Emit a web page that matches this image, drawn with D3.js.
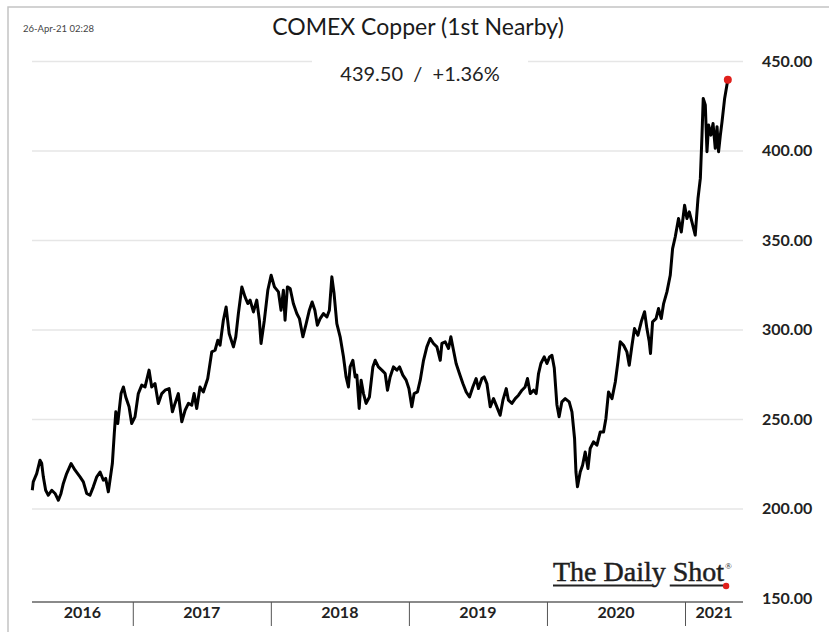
<!DOCTYPE html>
<html>
<head>
<meta charset="utf-8">
<script src="https://cdn.jsdelivr.net/npm/d3@7"></script>
<style>
    body { margin: 0; background: #fff; }
    svg { display: block; }
    text { font-family: Lato, "Open Sans", sans-serif; }
</style>
</head>
<body>
<svg id="chart" width="829" height="632"></svg>
<script>
// COMEX copper, 1st nearby, 5 years to 26-Apr-21 (dates as decimal years)
var dates = [
    2016.272, 2016.279, 2016.304, 2016.328, 2016.340, 2016.352, 2016.369, 2016.388, 2016.413, 2016.437,
    2016.461, 2016.480, 2016.497, 2016.521, 2016.553, 2016.582, 2016.618, 2016.642, 2016.666, 2016.690,
    2016.714, 2016.739, 2016.763, 2016.787, 2016.804, 2016.823, 2016.852, 2016.866, 2016.877, 2016.891,
    2016.915, 2016.932, 2016.949, 2016.973, 2016.992, 2017.016, 2017.040, 2017.065, 2017.089, 2017.118,
    2017.137, 2017.161, 2017.185, 2017.210, 2017.234, 2017.263, 2017.287, 2017.306, 2017.330, 2017.355,
    2017.379, 2017.403, 2017.427, 2017.444, 2017.463, 2017.487, 2017.511, 2017.543, 2017.572, 2017.596,
    2017.616, 2017.632, 2017.656, 2017.676, 2017.698, 2017.729, 2017.746, 2017.765, 2017.790, 2017.813,
    2017.833, 2017.850, 2017.874, 2017.898, 2017.917, 2017.929, 2017.953, 2017.978, 2018.002, 2018.026,
    2018.055, 2018.074, 2018.091, 2018.103, 2018.120, 2018.140, 2018.163, 2018.188, 2018.207, 2018.232,
    2018.256, 2018.279, 2018.299, 2018.319, 2018.337, 2018.357, 2018.381, 2018.406, 2018.424, 2018.442,
    2018.458, 2018.478, 2018.502, 2018.526, 2018.545, 2018.562, 2018.574, 2018.594, 2018.611, 2018.623,
    2018.640, 2018.654, 2018.671, 2018.690, 2018.714, 2018.739, 2018.756, 2018.779, 2018.804, 2018.828,
    2018.845, 2018.864, 2018.888, 2018.913, 2018.932, 2018.956, 2018.980, 2019.000, 2019.021, 2019.038,
    2019.062, 2019.082, 2019.106, 2019.130, 2019.154, 2019.178, 2019.203, 2019.227, 2019.239, 2019.263,
    2019.287, 2019.304, 2019.323, 2019.342, 2019.366, 2019.391, 2019.415, 2019.439, 2019.463, 2019.487,
    2019.504, 2019.529, 2019.545, 2019.565, 2019.589, 2019.613, 2019.637, 2019.661, 2019.681, 2019.705,
    2019.721, 2019.746, 2019.770, 2019.794, 2019.819, 2019.842, 2019.859, 2019.879, 2019.903, 2019.922,
    2019.939, 2019.956, 2019.980, 2020.000, 2020.019, 2020.036, 2020.053, 2020.072, 2020.088, 2020.108,
    2020.132, 2020.161, 2020.181, 2020.200, 2020.210, 2020.221, 2020.241, 2020.258, 2020.277, 2020.297,
    2020.313, 2020.337, 2020.362, 2020.386, 2020.410, 2020.427, 2020.446, 2020.471, 2020.495, 2020.514,
    2020.531, 2020.555, 2020.579, 2020.596, 2020.616, 2020.634, 2020.659, 2020.683, 2020.707, 2020.724,
    2020.741, 2020.750, 2020.765, 2020.790, 2020.808, 2020.828, 2020.845, 2020.869, 2020.893, 2020.910,
    2020.929, 2020.953, 2020.973, 2020.997, 2021.014, 2021.031, 2021.050, 2021.074, 2021.094, 2021.111,
    2021.123, 2021.132, 2021.147, 2021.159, 2021.171, 2021.188, 2021.203, 2021.219, 2021.232, 2021.243,
    2021.256, 2021.268, 2021.287, 2021.310
];

var prices = [
    210.2, 214.9, 219.5, 227.0, 225.3, 217.7, 210.2, 207.4, 210.2, 208.4,
    204.6, 208.4, 214.0, 219.5, 225.1, 221.4, 217.7, 214.9, 208.4, 207.4,
    212.1, 217.7, 220.4, 215.8, 216.8, 209.3, 225.1, 241.9, 254.0, 247.5,
    264.2, 267.9, 262.3, 256.8, 247.5, 251.2, 264.2, 268.9, 267.9, 277.3,
    267.9, 269.8, 258.7, 264.2, 266.1, 267.0, 254.0, 258.7, 264.2, 248.4,
    254.9, 258.7, 257.7, 264.2, 255.9, 267.9, 265.1, 272.6, 287.5, 288.4,
    294.0, 291.2, 305.2, 312.6, 297.8, 290.3, 295.9, 309.0, 323.8, 318.2,
    314.5, 316.4, 309.8, 316.4, 305.2, 292.2, 305.2, 321.9, 330.3, 323.8,
    321.0, 310.8, 321.9, 305.2, 323.8, 322.9, 314.5, 308.9, 306.1, 295.9,
    303.3, 310.8, 315.4, 310.8, 302.4, 306.1, 308.9, 307.0, 310.8, 329.4,
    320.1, 303.3, 295.9, 284.8, 273.5, 267.9, 279.1, 282.8, 273.5, 274.5,
    255.9, 271.7, 264.2, 258.7, 262.3, 279.1, 282.8, 279.1, 277.3, 275.4,
    266.1, 273.5, 279.1, 277.3, 279.1, 274.5, 271.7, 267.0, 256.8, 264.2,
    265.1, 271.7, 282.8, 290.3, 295.0, 292.2, 290.3, 282.8, 292.2, 293.1,
    289.4, 295.9, 288.4, 281.0, 275.4, 269.8, 265.1, 262.3, 267.9, 272.6,
    267.0, 272.6, 273.5, 269.8, 256.8, 261.4, 256.8, 252.1, 260.5, 267.0,
    260.5, 258.7, 261.4, 263.3, 266.1, 267.9, 272.6, 264.2, 266.1, 264.2,
    275.4, 281.0, 284.7, 281.0, 284.7, 285.6, 278.5, 258.0, 251.2, 259.6,
    261.4, 259.6, 254.0, 239.1, 220.4, 212.1, 220.4, 224.2, 231.6, 222.3,
    233.5, 237.2, 235.4, 242.8, 242.8, 250.3, 265.1, 261.4, 270.7, 281.9,
    293.1, 291.2, 287.5, 280.0, 291.2, 300.5, 296.8, 304.3, 309.9, 300.5,
    293.1, 286.6, 304.3, 306.1, 311.7, 306.1, 314.5, 321.0, 330.3, 345.2,
    351.7, 362.0, 354.5, 369.4, 362.0, 365.7, 360.1, 352.7, 373.2, 384.4,
    408.6, 429.1, 425.4, 399.3, 414.2, 408.6, 415.1, 401.2, 413.3, 399.3,
    408.6, 416.0, 429.1, 439.5
];

var priceTicks = [150, 200, 250, 300, 350, 400, 450];
var yearLabels = [2016, 2017, 2018, 2019, 2020, 2021];
var xDomain = [2016.27, 2021.42];

var title = 'COMEX Copper (1st Nearby)';
var lastLabel = '439.50  /  +1.36%';
var stamp = '26-Apr-21 02:28';

(function(){
    'use strict';

    /*******************************************************************
     *                            VARIABLES                            *
     *******************************************************************/

    var svg = d3.select('#chart');

    var left = 32,
        right = 743,
        axisY = 602;

    var xScale = d3.scaleLinear().domain(xDomain).range([left, right]);
    var yScale = d3.scaleLinear().domain([150, 450]).range([598, 61]);

    var series = dates.map(function(d, i) { return [d, prices[i]]; });

    /*******************************************************************
     *                            DRAWING                              *
     *******************************************************************/

    drawFrame();
    drawGrid();
    drawXAxis();
    drawSeries();
    drawLabels();
    drawLogo();

    /**
     * Grey frame along top and left edge
     */
    function drawFrame() {
        svg.append('path')
            .attr('d', 'M8,632 L8,7 L829,7')
            .attr('fill', 'none')
            .attr('stroke', '#c4c4c4')
            .attr('stroke-width', 1.5);
    }

    /**
     * Horizontal gridlines plus price labels on the right
     */
    function drawGrid() {
        var y = d3.axisRight(yScale)
            .tickValues(priceTicks)
            .tickSize(right - left)
            .tickFormat(function(d) { return d.toFixed(2); });

        var g = svg.append('g')
            .attr('class', 'y axis')
            .attr('transform', 'translate(' + left + ',0)')
            .call(y);

        g.select('.domain').remove();
        g.selectAll('.tick line')
            .attr('stroke', function(d) { return d === 150 ? 'none' : '#e6e6e6'; })
            .attr('stroke-width', 1.5);
        g.selectAll('.tick text')
            .attr('x', 762 - left)
            .attr('fill', '#222')
            .style('font-size', '16px')
            .style('font-weight', 700);
    }

    /**
     * Bottom axis with year separators and centred year names
     */
    function drawXAxis() {
        var x = d3.axisBottom(xScale)
            .tickValues(yearLabels.slice(1))
            .tickSize(24)
            .tickFormat('');

        var g = svg.append('g')
            .attr('class', 'x axis')
            .attr('transform', 'translate(0,' + axisY + ')')
            .call(x);

        g.select('.domain')
            .attr('d', 'M' + left + ',0H' + right)
            .attr('stroke', '#8a8a8a')
            .attr('stroke-width', 2);
        g.selectAll('.tick line')
            .attr('stroke', '#555')
            .attr('stroke-width', 1);

        svg.append('g').selectAll('text')
            .data(yearLabels)
            .enter()
            .append('text')
            .attr('x', function(d) {
                var a = Math.max(d, xDomain[0]);
                var b = Math.min(d + 1, xDomain[1]);
                return (xScale(a) + xScale(b)) / 2;
            })
            .attr('y', axisY + 16)
            .attr('text-anchor', 'middle')
            .attr('fill', '#222')
            .style('font-size', '16px')
            .style('font-weight', 700)
            .text(function(d) { return d; });
    }

    /**
     * Price line with a red marker on the latest value
     */
    function drawSeries() {
        var line = d3.line()
            .x(function(d) { return xScale(d[0]); })
            .y(function(d) { return yScale(d[1]); });

        svg.append('path')
            .datum(series)
            .attr('d', line)
            .attr('fill', 'none')
            .attr('stroke', '#000')
            .attr('stroke-width', 3)
            .attr('stroke-linejoin', 'round');

        var last = series[series.length - 1];
        svg.append('circle')
            .attr('cx', xScale(last[0]))
            .attr('cy', yScale(last[1]))
            .attr('r', 4)
            .attr('fill', '#e0201c');
    }

    /**
     * Title, last value box and time stamp
     */
    function drawLabels() {
        svg.append('text')
            .attr('x', 23)
            .attr('y', 32)
            .attr('fill', '#444')
            .style('font-size', '9.5px')
            .text(stamp);

        svg.append('text')
            .attr('x', 418)
            .attr('y', 35)
            .attr('text-anchor', 'middle')
            .attr('fill', '#1a1a1a')
            .style('font-size', '23px')
            .text(title);

        svg.append('rect')
            .attr('x', 312)
            .attr('y', 52)
            .attr('width', 216)
            .attr('height', 18)
            .attr('fill', '#fff');

        svg.append('text')
            .attr('x', 420)
            .attr('y', 81)
            .attr('text-anchor', 'middle')
            .attr('fill', '#222')
            .style('font-size', '20px')
            .style('white-space', 'pre')
            .text(lastLabel);
    }

    /**
     * "The Daily Shot" mark in the bottom right corner,
     * underline split around the descender of the y
     */
    function drawLogo() {
        var g = svg.append('g').attr('class', 'logo');
        var x0 = 553;

        var word = g.append('text')
            .attr('x', x0)
            .attr('y', 581)
            .attr('fill', '#1e1e1e')
            .attr('stroke', '#1e1e1e')
            .attr('stroke-width', 0.5)
            .style('font-family', '"Liberation Serif", "DejaVu Serif", serif')
            .style('font-size', '28px')
            .text('The Daily Shot');

        var node = word.node();
        var full = node.getComputedTextLength();
        var beforeY = node.getSubStringLength(0, 8);
        var throughY = node.getSubStringLength(0, 10);

        g.append('text')
            .attr('x', x0 + full + 1)
            .attr('y', 569)
            .attr('fill', '#222')
            .style('font-family', '"Liberation Serif", serif')
            .style('font-size', '9px')
            .text('\u00AE');

        g.append('path')
            .attr('d', 'M' + x0 + ',585.5H' + (x0 + beforeY + 1) +
                       'M' + (x0 + throughY - 3) + ',585.5H' + (x0 + full - 1))
            .attr('stroke', '#222')
            .attr('stroke-width', 2);

        g.append('circle')
            .attr('cx', x0 + full + 2)
            .attr('cy', 586)
            .attr('r', 3.2)
            .attr('fill', '#e0201c');
    }
})();
</script>
</body>
</html>
